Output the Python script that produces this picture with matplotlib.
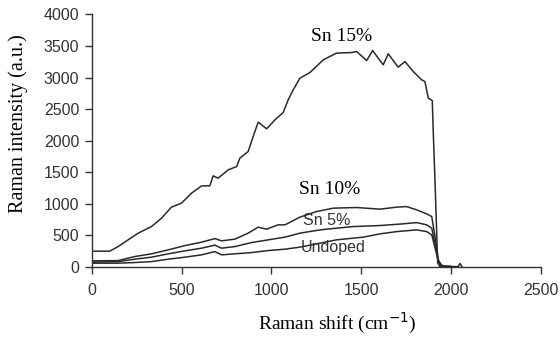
import matplotlib.pyplot as plt

# Raman spectra
x_sn15 = [0, 100, 146, 202, 258, 332, 388, 443, 499, 555, 611, 657, 675, 703, 759, 806,
          824, 870, 898, 926, 973, 1019, 1065, 1093, 1121, 1158, 1214, 1288, 1362, 1446,
          1474, 1530, 1563, 1622, 1650, 1705, 1743, 1789, 1836, 1854, 1873, 1895, 1900,
          1910, 1925, 1937, 1960, 2040, 2049, 2060]
y_sn15 = [244, 244, 317, 424, 530, 635, 768, 943, 1006, 1165, 1281, 1281, 1440, 1403, 1535,
          1587, 1720, 1825, 2063, 2292, 2185, 2328, 2444, 2646, 2804, 2990, 3079, 3280, 3387,
          3396, 3412, 3269, 3428, 3201, 3376, 3164, 3253, 3095, 2963, 2936, 2673, 2635, 2170,
          1376, 60, 0, 0, 0, 50, 0]

x_sn10 = [0, 146, 239, 332, 425, 518, 611, 685, 722, 796, 870, 926, 973, 1037, 1075, 1158,
          1251, 1344, 1474, 1604, 1697, 1752, 1808, 1864, 1892, 1910, 1929, 1947, 2000]
y_sn10 = [90, 95, 159, 202, 265, 333, 387, 444, 408, 435, 530, 625, 593, 662, 662, 784,
          873, 927, 937, 911, 943, 952, 900, 836, 794, 476, 106, 16, 0]

x_sn5 = [0, 146, 239, 332, 425, 518, 611, 685, 722, 796, 889, 982, 1075, 1158, 1270, 1362,
         1455, 1604, 1733, 1808, 1864, 1892, 1910, 1929, 1947, 2000]
y_sn5 = [70, 79, 117, 149, 202, 249, 292, 340, 292, 317, 381, 424, 467, 530, 582, 609,
         635, 651, 678, 698, 662, 609, 371, 79, 0, 0]

x_undoped = [0, 146, 239, 332, 425, 518, 611, 685, 722, 796, 889, 982, 1075, 1158, 1251,
             1362, 1511, 1604, 1697, 1808, 1864, 1892, 1913, 1932, 1960, 2000]
y_undoped = [54, 54, 64, 79, 117, 149, 186, 238, 186, 202, 222, 254, 276, 308, 360,
             424, 467, 519, 555, 582, 555, 503, 265, 54, 0, 0]

x_ticks = [0, 500, 1000, 1500, 2000, 2500]
y_ticks = [0, 500, 1000, 1500, 2000, 2500, 3000, 3500, 4000]

fig = plt.figure(figsize=(5.6, 3.37), dpi=100)
ax = fig.add_axes([0.164, 0.209, 0.802, 0.748])

line_kw = dict(color='#2a2a2a', linewidth=1.1)
ax.plot(x_undoped, y_undoped, **line_kw)
ax.plot(x_sn5, y_sn5, **line_kw)
ax.plot(x_sn10, y_sn10, **line_kw)
ax.plot(x_sn15, y_sn15, **line_kw)

ax.set_xlim(0, 2500)
ax.set_ylim(0, 4000)
ax.set_xticks(x_ticks)
ax.set_yticks(y_ticks)

for s in ['top', 'right']:
    ax.spines[s].set_visible(False)
for s in ['left', 'bottom']:
    ax.spines[s].set_color('#333333')
    ax.spines[s].set_linewidth(1.0)

ax.tick_params(direction='out', length=5, width=1, color='#333333',
               labelsize=11.5, labelcolor='#333333')
ax.tick_params(axis='x', pad=6.5)
ax.tick_params(axis='y', pad=4)
for lab in ax.get_xticklabels() + ax.get_yticklabels():
    lab.set_family('Liberation Sans')

serif = 'Liberation Serif'
ax.set_xlabel('Raman shift (cm$^{-1}$)', family=serif, fontsize=14)
ax.set_ylabel('Raman intensity (a.u.)', family=serif, fontsize=14.5)
ax.xaxis.set_label_coords(0.547, -0.175)
ax.yaxis.set_label_coords(-0.142, 0.566)

ax.text(1392, 3645, 'Sn 15%', family=serif, fontsize=14, ha='center', va='center')
ax.text(1325, 1217, 'Sn 10%', family=serif, fontsize=14, ha='center', va='center')
ax.text(1308, 727, 'Sn 5%', family='Liberation Sans', fontsize=11.5, ha='center',
        va='center', color='#333333')
ax.text(1342, 297, 'Undoped', family='Liberation Sans', fontsize=11.5, ha='center',
        va='center', color='#333333')

fig.savefig('out.png', dpi=100)
